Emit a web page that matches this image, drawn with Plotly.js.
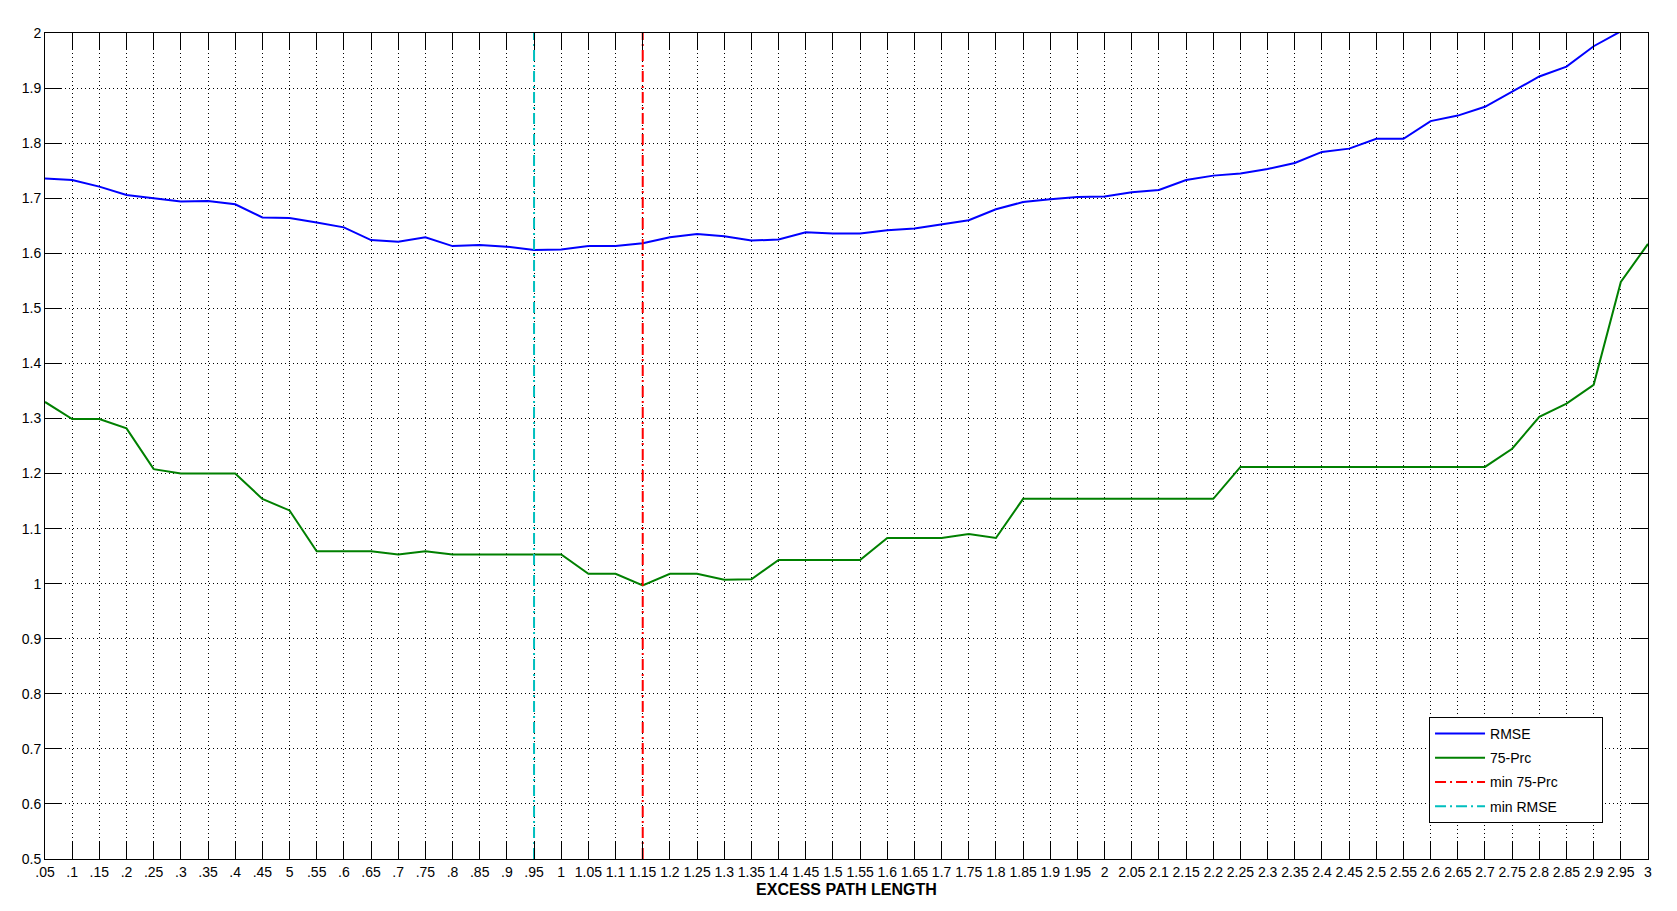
<!DOCTYPE html>
<html>
<head>
<meta charset="utf-8">
<script src="https://cdn.plot.ly/plotly-3.0.1.min.js"></script>
<style>html,body{margin:0;padding:0;background:#fff;}#chart{width:1677px;height:911px;}</style>
</head>
<body>
<div id="chart"></div>
<script>
const excessPathLength = [0.05,0.1,0.15,0.2,0.25,0.3,0.35,0.4,0.45,0.5,0.55,0.6,0.65,0.7,0.75,0.8,0.85,0.9,0.95,1.0,
  1.05,1.1,1.15,1.2,1.25,1.3,1.35,1.4,1.45,1.5,1.55,1.6,1.65,1.7,1.75,1.8,1.85,1.9,1.95,2.0,
  2.05,2.1,2.15,2.2,2.25,2.3,2.35,2.4,2.45,2.5,2.55,2.6,2.65,2.7,2.75,2.8,2.85,2.9,2.95,3.0];
const xTickLabels = ['.05','.1','.15','.2','.25','.3','.35','.4','.45','5','.55','.6','.65','.7','.75','.8','.85','.9','.95','1',
  '1.05','1.1','1.15','1.2','1.25','1.3','1.35','1.4','1.45','1.5','1.55','1.6','1.65','1.7','1.75','1.8','1.85','1.9','1.95','2',
  '2.05','2.1','2.15','2.2','2.25','2.3','2.35','2.4','2.45','2.5','2.55','2.6','2.65','2.7','2.75','2.8','2.85','2.9','2.95','3'];
const rmse = [1.736,1.733,1.721,1.706,1.700,1.694,1.695,1.689,1.665,1.664,1.656,1.647,1.624,1.621,1.629,1.613,1.615,1.612,1.606,1.607,
  1.613,1.613,1.618,1.629,1.635,1.631,1.623,1.625,1.638,1.636,1.636,1.642,1.645,1.652,1.660,1.680,1.693,1.698,1.702,1.703,
  1.711,1.715,1.733,1.741,1.745,1.753,1.764,1.784,1.790,1.808,1.808,1.840,1.850,1.866,1.893,1.921,1.939,1.976,2.003,2.030];
const prc75 = [1.330,1.299,1.299,1.282,1.208,1.200,1.200,1.200,1.154,1.133,1.059,1.059,1.059,1.053,1.059,1.053,1.053,1.053,1.053,1.053,
  1.018,1.018,0.997,1.018,1.018,1.007,1.008,1.043,1.043,1.043,1.043,1.083,1.083,1.083,1.090,1.083,1.154,1.154,1.154,1.154,
  1.154,1.154,1.154,1.154,1.212,1.212,1.212,1.212,1.212,1.212,1.212,1.212,1.212,1.212,1.245,1.303,1.327,1.361,1.548,1.617];
const min75PrcX = 1.15;
const minRmseX = 0.95;
const yRange = [0.5, 2];
const xRange = [0.05, 3];
const seriesNames = ['RMSE', '75-Prc', 'min 75-Prc', 'min RMSE'];

const legendPad = '\u00a0'.repeat(10);
const dashDot = '11px,4px,2px,4px';
const traces = [
  {x: excessPathLength, y: rmse, name: seriesNames[0], type: 'scatter', mode: 'lines',
   line: {color: '#0000ff', width: 2}, legendgroup: 'a'},
  {x: excessPathLength, y: prc75, name: seriesNames[1], type: 'scatter', mode: 'lines',
   line: {color: '#008000', width: 2}, legendgroup: 'b'},
  {x: [min75PrcX, min75PrcX], y: yRange, name: seriesNames[2] + legendPad, type: 'scatter', mode: 'lines',
   line: {color: '#ff0000', width: 2, dash: dashDot}, legendgroup: 'c'},
  {x: [minRmseX, minRmseX], y: yRange, name: seriesNames[3], type: 'scatter', mode: 'lines',
   line: {color: '#00bfbf', width: 2, dash: dashDot}, legendgroup: 'd'}
];

const font = {family: '"Liberation Sans", Arial, Helvetica, sans-serif', size: 14, color: '#000'};
const layout = {
  width: 1677, height: 911,
  margin: {l: 45, r: 29, t: 33, b: 52, pad: 0},
  paper_bgcolor: '#fff', plot_bgcolor: '#fff',
  font: font,
  showlegend: true,
  legend: {x: 0.8634, y: 0.1720, xanchor: 'left', yanchor: 'top', bgcolor: '#fff',
           bordercolor: '#000', borderwidth: 1, font: {family: font.family, size: 14, color: '#000'},
           itemwidth: 50, tracegroupgap: 3},
  xaxis: {
    range: xRange, tickmode: 'array', tickvals: excessPathLength, ticktext: xTickLabels,
    tickangle: 0, ticks: 'inside', ticklen: 17, tickcolor: '#000', tickwidth: 1,
    showline: true, linecolor: '#000', linewidth: 1, mirror: 'ticks',
    showgrid: true, gridcolor: '#000', gridwidth: 1, griddash: '1px,3px',
    zeroline: false, tickfont: {family: font.family, size: 14, color: '#000'},
    title: {text: '<b>EXCESS PATH LENGTH</b>', font: {family: font.family, size: 16, color: '#000'}, standoff: 5}
  },
  yaxis: {
    range: yRange, tickmode: 'linear', tick0: 0.5, dtick: 0.1,
    ticks: 'inside', ticklen: 17, tickcolor: '#000', tickwidth: 1,
    showline: true, linecolor: '#000', linewidth: 1, mirror: 'ticks',
    showgrid: true, gridcolor: '#000', gridwidth: 1, griddash: '1px,3px',
    zeroline: false, tickfont: {family: font.family, size: 14, color: '#000'}
  }
};
Plotly.newPlot('chart', traces, layout, {displayModeBar: false, staticPlot: true});
</script>
</body>
</html>
